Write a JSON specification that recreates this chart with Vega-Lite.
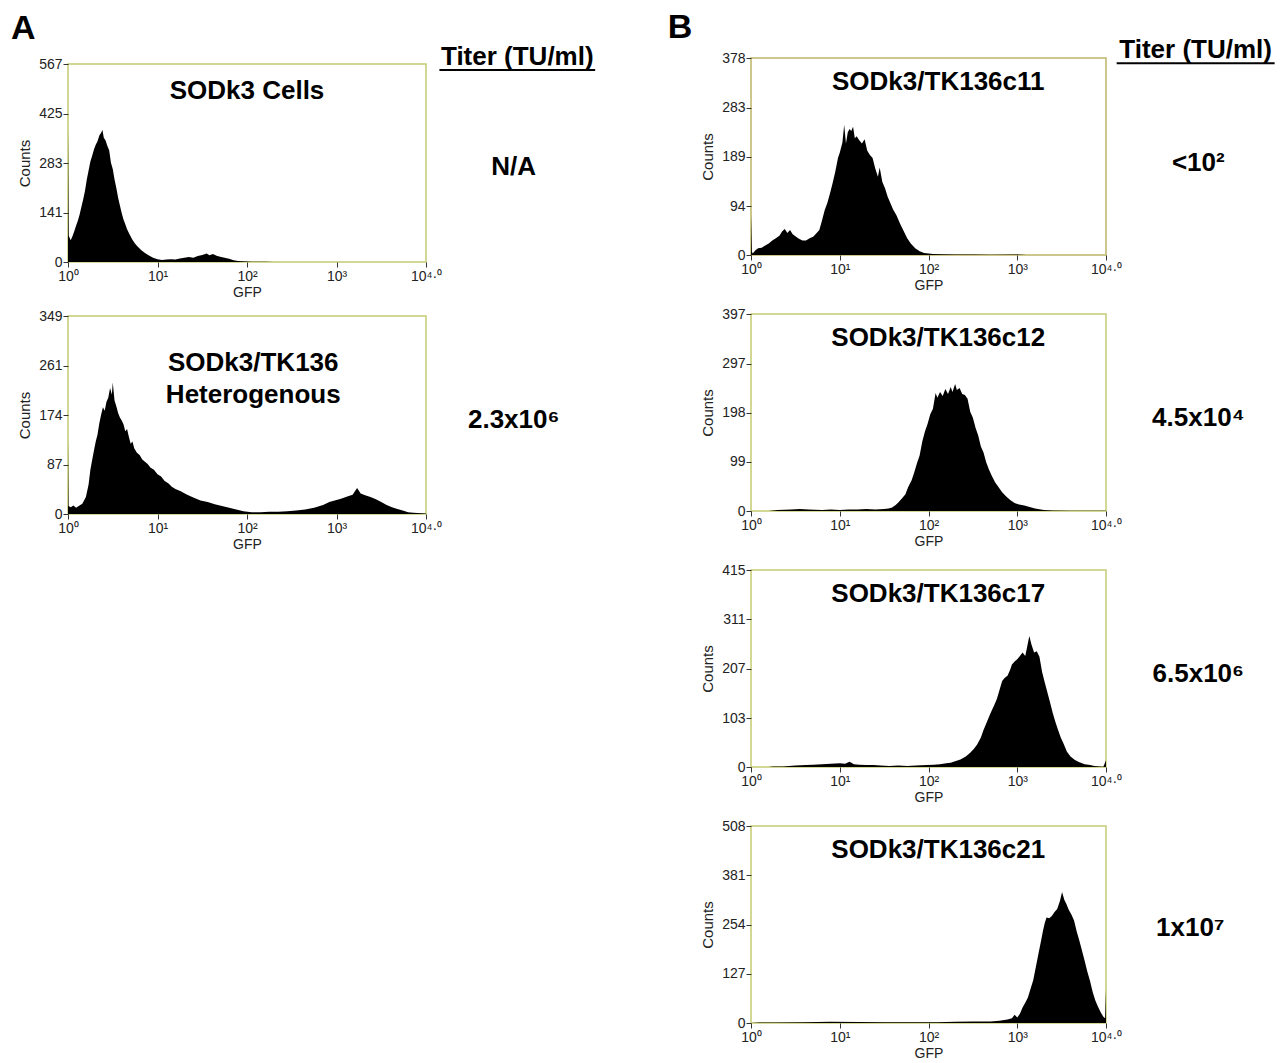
{
  "$schema": "https://vega.github.io/schema/vega-lite/v6.json",
  "padding": {"left": 10, "top": 10, "right": 0, "bottom": 0},
  "background": "white",
  "datasets": {
    "hist": [
      {"panel":"A1","log_gfp":0,"count":385},{"panel":"A1","log_gfp":0.008,"count":75},{"panel":"A1","log_gfp":0.03,"count":62},{"panel":"A1","log_gfp":0.05,"count":74},{"panel":"A1","log_gfp":0.07,"count":88},{"panel":"A1","log_gfp":0.09,"count":104},{"panel":"A1","log_gfp":0.11,"count":118},{"panel":"A1","log_gfp":0.13,"count":136},{"panel":"A1","log_gfp":0.15,"count":158},{"panel":"A1","log_gfp":0.17,"count":180},{"panel":"A1","log_gfp":0.19,"count":204},{"panel":"A1","log_gfp":0.21,"count":236},{"panel":"A1","log_gfp":0.23,"count":262},{"panel":"A1","log_gfp":0.25,"count":288},{"panel":"A1","log_gfp":0.27,"count":304},{"panel":"A1","log_gfp":0.29,"count":322},{"panel":"A1","log_gfp":0.31,"count":336},{"panel":"A1","log_gfp":0.33,"count":346},{"panel":"A1","log_gfp":0.35,"count":362},{"panel":"A1","log_gfp":0.37,"count":370},{"panel":"A1","log_gfp":0.385,"count":378},{"panel":"A1","log_gfp":0.40,"count":356},{"panel":"A1","log_gfp":0.42,"count":348},{"panel":"A1","log_gfp":0.44,"count":332},{"panel":"A1","log_gfp":0.46,"count":320},{"panel":"A1","log_gfp":0.48,"count":284},{"panel":"A1","log_gfp":0.50,"count":266},{"panel":"A1","log_gfp":0.52,"count":236},{"panel":"A1","log_gfp":0.54,"count":212},{"panel":"A1","log_gfp":0.56,"count":184},{"panel":"A1","log_gfp":0.58,"count":162},{"panel":"A1","log_gfp":0.60,"count":140},{"panel":"A1","log_gfp":0.62,"count":122},{"panel":"A1","log_gfp":0.64,"count":108},{"panel":"A1","log_gfp":0.66,"count":94},{"panel":"A1","log_gfp":0.69,"count":78},{"panel":"A1","log_gfp":0.72,"count":64},{"panel":"A1","log_gfp":0.75,"count":52},{"panel":"A1","log_gfp":0.78,"count":44},{"panel":"A1","log_gfp":0.82,"count":34},{"panel":"A1","log_gfp":0.86,"count":26},{"panel":"A1","log_gfp":0.90,"count":19},{"panel":"A1","log_gfp":0.95,"count":12},{"panel":"A1","log_gfp":1.00,"count":8},{"panel":"A1","log_gfp":1.05,"count":6},{"panel":"A1","log_gfp":1.10,"count":7},{"panel":"A1","log_gfp":1.15,"count":8},{"panel":"A1","log_gfp":1.20,"count":7},{"panel":"A1","log_gfp":1.25,"count":10},{"panel":"A1","log_gfp":1.30,"count":12},{"panel":"A1","log_gfp":1.35,"count":14},{"panel":"A1","log_gfp":1.40,"count":12},{"panel":"A1","log_gfp":1.45,"count":17},{"panel":"A1","log_gfp":1.50,"count":20},{"panel":"A1","log_gfp":1.55,"count":24},{"panel":"A1","log_gfp":1.58,"count":19},{"panel":"A1","log_gfp":1.62,"count":23},{"panel":"A1","log_gfp":1.66,"count":18},{"panel":"A1","log_gfp":1.70,"count":15},{"panel":"A1","log_gfp":1.75,"count":12},{"panel":"A1","log_gfp":1.80,"count":9},{"panel":"A1","log_gfp":1.85,"count":5},{"panel":"A1","log_gfp":1.90,"count":3},{"panel":"A1","log_gfp":1.95,"count":2},{"panel":"A1","log_gfp":2.05,"count":1},{"panel":"A1","log_gfp":2.2,"count":0.5},{"panel":"A1","log_gfp":2.3,"count":0},{"panel":"A1","log_gfp":4,"count":0},

      {"panel":"A2","log_gfp":0,"count":132},{"panel":"A2","log_gfp":0.006,"count":14},{"panel":"A2","log_gfp":0.03,"count":12},{"panel":"A2","log_gfp":0.06,"count":15},{"panel":"A2","log_gfp":0.09,"count":11},{"panel":"A2","log_gfp":0.12,"count":14},{"panel":"A2","log_gfp":0.16,"count":18},{"panel":"A2","log_gfp":0.20,"count":30},{"panel":"A2","log_gfp":0.23,"count":52},{"panel":"A2","log_gfp":0.25,"count":78},{"panel":"A2","log_gfp":0.27,"count":95},{"panel":"A2","log_gfp":0.29,"count":112},{"panel":"A2","log_gfp":0.31,"count":128},{"panel":"A2","log_gfp":0.33,"count":140},{"panel":"A2","log_gfp":0.35,"count":160},{"panel":"A2","log_gfp":0.37,"count":175},{"panel":"A2","log_gfp":0.39,"count":188},{"panel":"A2","log_gfp":0.41,"count":182},{"panel":"A2","log_gfp":0.43,"count":198},{"panel":"A2","log_gfp":0.45,"count":205},{"panel":"A2","log_gfp":0.47,"count":222},{"panel":"A2","log_gfp":0.49,"count":210},{"panel":"A2","log_gfp":0.50,"count":232},{"panel":"A2","log_gfp":0.52,"count":200},{"panel":"A2","log_gfp":0.54,"count":190},{"panel":"A2","log_gfp":0.56,"count":178},{"panel":"A2","log_gfp":0.58,"count":170},{"panel":"A2","log_gfp":0.60,"count":165},{"panel":"A2","log_gfp":0.62,"count":158},{"panel":"A2","log_gfp":0.64,"count":146},{"panel":"A2","log_gfp":0.66,"count":150},{"panel":"A2","log_gfp":0.68,"count":136},{"panel":"A2","log_gfp":0.70,"count":124},{"panel":"A2","log_gfp":0.72,"count":128},{"panel":"A2","log_gfp":0.74,"count":116},{"panel":"A2","log_gfp":0.77,"count":108},{"panel":"A2","log_gfp":0.80,"count":104},{"panel":"A2","log_gfp":0.83,"count":96},{"panel":"A2","log_gfp":0.86,"count":92},{"panel":"A2","log_gfp":0.89,"count":88},{"panel":"A2","log_gfp":0.92,"count":82},{"panel":"A2","log_gfp":0.96,"count":78},{"panel":"A2","log_gfp":1.00,"count":70},{"panel":"A2","log_gfp":1.04,"count":66},{"panel":"A2","log_gfp":1.08,"count":58},{"panel":"A2","log_gfp":1.12,"count":54},{"panel":"A2","log_gfp":1.16,"count":48},{"panel":"A2","log_gfp":1.20,"count":44},{"panel":"A2","log_gfp":1.26,"count":40},{"panel":"A2","log_gfp":1.32,"count":35},{"panel":"A2","log_gfp":1.40,"count":29},{"panel":"A2","log_gfp":1.48,"count":24},{"panel":"A2","log_gfp":1.56,"count":21},{"panel":"A2","log_gfp":1.64,"count":17},{"panel":"A2","log_gfp":1.72,"count":14},{"panel":"A2","log_gfp":1.80,"count":11},{"panel":"A2","log_gfp":1.88,"count":8},{"panel":"A2","log_gfp":1.96,"count":5},{"panel":"A2","log_gfp":2.05,"count":3},{"panel":"A2","log_gfp":2.15,"count":3},{"panel":"A2","log_gfp":2.25,"count":4},{"panel":"A2","log_gfp":2.35,"count":4},{"panel":"A2","log_gfp":2.45,"count":5},{"panel":"A2","log_gfp":2.55,"count":6},{"panel":"A2","log_gfp":2.65,"count":8},{"panel":"A2","log_gfp":2.75,"count":11},{"panel":"A2","log_gfp":2.85,"count":16},{"panel":"A2","log_gfp":2.92,"count":21},{"panel":"A2","log_gfp":2.98,"count":24},{"panel":"A2","log_gfp":3.05,"count":27},{"panel":"A2","log_gfp":3.12,"count":31},{"panel":"A2","log_gfp":3.18,"count":34},{"panel":"A2","log_gfp":3.23,"count":46},{"panel":"A2","log_gfp":3.27,"count":36},{"panel":"A2","log_gfp":3.32,"count":33},{"panel":"A2","log_gfp":3.38,"count":30},{"panel":"A2","log_gfp":3.44,"count":26},{"panel":"A2","log_gfp":3.50,"count":21},{"panel":"A2","log_gfp":3.56,"count":16},{"panel":"A2","log_gfp":3.62,"count":12},{"panel":"A2","log_gfp":3.68,"count":9},{"panel":"A2","log_gfp":3.74,"count":6},{"panel":"A2","log_gfp":3.80,"count":3},{"panel":"A2","log_gfp":3.86,"count":2},{"panel":"A2","log_gfp":3.95,"count":1.5},{"panel":"A2","log_gfp":4,"count":1},

      {"panel":"B1","log_gfp":0,"count":78},{"panel":"B1","log_gfp":0.01,"count":6},{"panel":"B1","log_gfp":0.02,"count":3},{"panel":"B1","log_gfp":0.05,"count":9},{"panel":"B1","log_gfp":0.08,"count":13},{"panel":"B1","log_gfp":0.12,"count":14},{"panel":"B1","log_gfp":0.16,"count":18},{"panel":"B1","log_gfp":0.20,"count":22},{"panel":"B1","log_gfp":0.24,"count":28},{"panel":"B1","log_gfp":0.28,"count":32},{"panel":"B1","log_gfp":0.32,"count":37},{"panel":"B1","log_gfp":0.35,"count":45},{"panel":"B1","log_gfp":0.38,"count":50},{"panel":"B1","log_gfp":0.41,"count":42},{"panel":"B1","log_gfp":0.44,"count":48},{"panel":"B1","log_gfp":0.47,"count":40},{"panel":"B1","log_gfp":0.50,"count":36},{"panel":"B1","log_gfp":0.54,"count":31},{"panel":"B1","log_gfp":0.58,"count":28},{"panel":"B1","log_gfp":0.62,"count":28},{"panel":"B1","log_gfp":0.66,"count":32},{"panel":"B1","log_gfp":0.70,"count":35},{"panel":"B1","log_gfp":0.74,"count":42},{"panel":"B1","log_gfp":0.77,"count":48},{"panel":"B1","log_gfp":0.80,"count":66},{"panel":"B1","log_gfp":0.83,"count":86},{"panel":"B1","log_gfp":0.86,"count":100},{"panel":"B1","log_gfp":0.89,"count":118},{"panel":"B1","log_gfp":0.92,"count":138},{"panel":"B1","log_gfp":0.95,"count":160},{"panel":"B1","log_gfp":0.98,"count":186},{"panel":"B1","log_gfp":1.00,"count":196},{"panel":"B1","log_gfp":1.03,"count":216},{"panel":"B1","log_gfp":1.05,"count":250},{"panel":"B1","log_gfp":1.07,"count":214},{"panel":"B1","log_gfp":1.09,"count":235},{"panel":"B1","log_gfp":1.11,"count":242},{"panel":"B1","log_gfp":1.13,"count":238},{"panel":"B1","log_gfp":1.15,"count":246},{"panel":"B1","log_gfp":1.17,"count":224},{"panel":"B1","log_gfp":1.19,"count":228},{"panel":"B1","log_gfp":1.22,"count":220},{"panel":"B1","log_gfp":1.25,"count":214},{"panel":"B1","log_gfp":1.28,"count":222},{"panel":"B1","log_gfp":1.31,"count":200},{"panel":"B1","log_gfp":1.34,"count":192},{"panel":"B1","log_gfp":1.37,"count":186},{"panel":"B1","log_gfp":1.40,"count":166},{"panel":"B1","log_gfp":1.43,"count":150},{"panel":"B1","log_gfp":1.45,"count":168},{"panel":"B1","log_gfp":1.48,"count":140},{"panel":"B1","log_gfp":1.51,"count":128},{"panel":"B1","log_gfp":1.54,"count":112},{"panel":"B1","log_gfp":1.57,"count":100},{"panel":"B1","log_gfp":1.60,"count":88},{"panel":"B1","log_gfp":1.64,"count":76},{"panel":"B1","log_gfp":1.68,"count":60},{"panel":"B1","log_gfp":1.72,"count":46},{"panel":"B1","log_gfp":1.76,"count":32},{"panel":"B1","log_gfp":1.80,"count":22},{"panel":"B1","log_gfp":1.85,"count":13},{"panel":"B1","log_gfp":1.90,"count":7},{"panel":"B1","log_gfp":1.95,"count":4},{"panel":"B1","log_gfp":2.0,"count":3},{"panel":"B1","log_gfp":2.05,"count":2},{"panel":"B1","log_gfp":2.15,"count":1.5},{"panel":"B1","log_gfp":2.3,"count":1},{"panel":"B1","log_gfp":2.5,"count":1},{"panel":"B1","log_gfp":2.7,"count":0.5},{"panel":"B1","log_gfp":3.0,"count":0.8},{"panel":"B1","log_gfp":3.1,"count":0},{"panel":"B1","log_gfp":4,"count":0},

      {"panel":"B2","log_gfp":0,"count":0},{"panel":"B2","log_gfp":0.2,"count":0},{"panel":"B2","log_gfp":0.25,"count":1},{"panel":"B2","log_gfp":0.3,"count":2},{"panel":"B2","log_gfp":0.45,"count":3},{"panel":"B2","log_gfp":0.55,"count":4},{"panel":"B2","log_gfp":0.65,"count":3},{"panel":"B2","log_gfp":0.8,"count":2},{"panel":"B2","log_gfp":0.9,"count":3},{"panel":"B2","log_gfp":1.0,"count":2},{"panel":"B2","log_gfp":1.1,"count":3},{"panel":"B2","log_gfp":1.2,"count":3},{"panel":"B2","log_gfp":1.3,"count":4},{"panel":"B2","log_gfp":1.4,"count":3},{"panel":"B2","log_gfp":1.5,"count":4},{"panel":"B2","log_gfp":1.55,"count":5},{"panel":"B2","log_gfp":1.59,"count":7},{"panel":"B2","log_gfp":1.63,"count":12},{"panel":"B2","log_gfp":1.66,"count":17},{"panel":"B2","log_gfp":1.70,"count":25},{"panel":"B2","log_gfp":1.74,"count":34},{"panel":"B2","log_gfp":1.77,"count":48},{"panel":"B2","log_gfp":1.81,"count":62},{"panel":"B2","log_gfp":1.84,"count":78},{"panel":"B2","log_gfp":1.87,"count":96},{"panel":"B2","log_gfp":1.90,"count":112},{"panel":"B2","log_gfp":1.93,"count":140},{"panel":"B2","log_gfp":1.96,"count":160},{"panel":"B2","log_gfp":1.99,"count":176},{"panel":"B2","log_gfp":2.02,"count":195},{"panel":"B2","log_gfp":2.05,"count":206},{"panel":"B2","log_gfp":2.08,"count":238},{"panel":"B2","log_gfp":2.10,"count":228},{"panel":"B2","log_gfp":2.13,"count":240},{"panel":"B2","log_gfp":2.16,"count":232},{"panel":"B2","log_gfp":2.19,"count":246},{"panel":"B2","log_gfp":2.22,"count":236},{"panel":"B2","log_gfp":2.25,"count":250},{"panel":"B2","log_gfp":2.27,"count":240},{"panel":"B2","log_gfp":2.30,"count":256},{"panel":"B2","log_gfp":2.32,"count":244},{"panel":"B2","log_gfp":2.35,"count":248},{"panel":"B2","log_gfp":2.38,"count":236},{"panel":"B2","log_gfp":2.41,"count":234},{"panel":"B2","log_gfp":2.44,"count":226},{"panel":"B2","log_gfp":2.47,"count":200},{"panel":"B2","log_gfp":2.50,"count":188},{"panel":"B2","log_gfp":2.53,"count":168},{"panel":"B2","log_gfp":2.56,"count":152},{"panel":"B2","log_gfp":2.59,"count":130},{"panel":"B2","log_gfp":2.62,"count":118},{"panel":"B2","log_gfp":2.65,"count":98},{"panel":"B2","log_gfp":2.68,"count":84},{"panel":"B2","log_gfp":2.71,"count":72},{"panel":"B2","log_gfp":2.75,"count":58},{"panel":"B2","log_gfp":2.79,"count":48},{"panel":"B2","log_gfp":2.83,"count":38},{"panel":"B2","log_gfp":2.87,"count":30},{"panel":"B2","log_gfp":2.92,"count":22},{"panel":"B2","log_gfp":2.97,"count":16},{"panel":"B2","log_gfp":3.02,"count":13},{"panel":"B2","log_gfp":3.08,"count":11},{"panel":"B2","log_gfp":3.14,"count":8},{"panel":"B2","log_gfp":3.2,"count":5},{"panel":"B2","log_gfp":3.3,"count":2},{"panel":"B2","log_gfp":3.4,"count":1},{"panel":"B2","log_gfp":3.6,"count":0.5},{"panel":"B2","log_gfp":4,"count":0.5},

      {"panel":"B3","log_gfp":0,"count":0},{"panel":"B3","log_gfp":0.2,"count":0},{"panel":"B3","log_gfp":0.25,"count":1},{"panel":"B3","log_gfp":0.36,"count":1},{"panel":"B3","log_gfp":0.43,"count":2},{"panel":"B3","log_gfp":0.5,"count":3},{"panel":"B3","log_gfp":0.62,"count":4},{"panel":"B3","log_gfp":0.7,"count":5},{"panel":"B3","log_gfp":0.8,"count":6},{"panel":"B3","log_gfp":0.9,"count":7},{"panel":"B3","log_gfp":1.0,"count":8},{"panel":"B3","log_gfp":1.06,"count":7},{"panel":"B3","log_gfp":1.11,"count":11},{"panel":"B3","log_gfp":1.16,"count":6},{"panel":"B3","log_gfp":1.22,"count":5},{"panel":"B3","log_gfp":1.3,"count":4},{"panel":"B3","log_gfp":1.38,"count":4},{"panel":"B3","log_gfp":1.46,"count":3},{"panel":"B3","log_gfp":1.56,"count":2},{"panel":"B3","log_gfp":1.66,"count":3},{"panel":"B3","log_gfp":1.76,"count":2},{"panel":"B3","log_gfp":1.86,"count":3},{"panel":"B3","log_gfp":1.98,"count":4},{"panel":"B3","log_gfp":2.06,"count":5},{"panel":"B3","log_gfp":2.13,"count":6},{"panel":"B3","log_gfp":2.2,"count":8},{"panel":"B3","log_gfp":2.25,"count":9},{"panel":"B3","log_gfp":2.3,"count":12},{"panel":"B3","log_gfp":2.36,"count":16},{"panel":"B3","log_gfp":2.42,"count":22},{"panel":"B3","log_gfp":2.47,"count":30},{"panel":"B3","log_gfp":2.51,"count":38},{"panel":"B3","log_gfp":2.55,"count":48},{"panel":"B3","log_gfp":2.59,"count":62},{"panel":"B3","log_gfp":2.62,"count":78},{"panel":"B3","log_gfp":2.66,"count":96},{"panel":"B3","log_gfp":2.70,"count":114},{"panel":"B3","log_gfp":2.74,"count":130},{"panel":"B3","log_gfp":2.77,"count":143},{"panel":"B3","log_gfp":2.80,"count":162},{"panel":"B3","log_gfp":2.83,"count":181},{"panel":"B3","log_gfp":2.86,"count":188},{"panel":"B3","log_gfp":2.89,"count":192},{"panel":"B3","log_gfp":2.92,"count":205},{"panel":"B3","log_gfp":2.94,"count":216},{"panel":"B3","log_gfp":2.97,"count":222},{"panel":"B3","log_gfp":3.00,"count":227},{"panel":"B3","log_gfp":3.03,"count":234},{"panel":"B3","log_gfp":3.06,"count":241},{"panel":"B3","log_gfp":3.09,"count":234},{"panel":"B3","log_gfp":3.11,"count":252},{"panel":"B3","log_gfp":3.136,"count":276},{"panel":"B3","log_gfp":3.16,"count":258},{"panel":"B3","log_gfp":3.19,"count":241},{"panel":"B3","log_gfp":3.22,"count":244},{"panel":"B3","log_gfp":3.25,"count":232},{"panel":"B3","log_gfp":3.28,"count":200},{"panel":"B3","log_gfp":3.31,"count":178},{"panel":"B3","log_gfp":3.34,"count":157},{"panel":"B3","log_gfp":3.37,"count":136},{"panel":"B3","log_gfp":3.40,"count":114},{"panel":"B3","log_gfp":3.43,"count":95},{"panel":"B3","log_gfp":3.46,"count":78},{"panel":"B3","log_gfp":3.49,"count":62},{"panel":"B3","log_gfp":3.52,"count":50},{"panel":"B3","log_gfp":3.56,"count":32},{"panel":"B3","log_gfp":3.60,"count":22},{"panel":"B3","log_gfp":3.65,"count":15},{"panel":"B3","log_gfp":3.70,"count":10},{"panel":"B3","log_gfp":3.76,"count":6},{"panel":"B3","log_gfp":3.82,"count":4},{"panel":"B3","log_gfp":3.87,"count":2},{"panel":"B3","log_gfp":3.93,"count":1},{"panel":"B3","log_gfp":3.97,"count":0.5},{"panel":"B3","log_gfp":4,"count":14},

      {"panel":"B4","log_gfp":0,"count":0},{"panel":"B4","log_gfp":0.1,"count":1},{"panel":"B4","log_gfp":0.3,"count":1.5},{"panel":"B4","log_gfp":0.6,"count":2},{"panel":"B4","log_gfp":0.9,"count":3},{"panel":"B4","log_gfp":1.2,"count":2.5},{"panel":"B4","log_gfp":1.5,"count":2},{"panel":"B4","log_gfp":1.8,"count":2},{"panel":"B4","log_gfp":2.1,"count":2},{"panel":"B4","log_gfp":2.3,"count":3},{"panel":"B4","log_gfp":2.5,"count":4},{"panel":"B4","log_gfp":2.7,"count":4},{"panel":"B4","log_gfp":2.8,"count":6},{"panel":"B4","log_gfp":2.89,"count":9},{"panel":"B4","log_gfp":2.94,"count":12},{"panel":"B4","log_gfp":2.97,"count":21},{"panel":"B4","log_gfp":3.0,"count":14},{"panel":"B4","log_gfp":3.03,"count":24},{"panel":"B4","log_gfp":3.06,"count":40},{"panel":"B4","log_gfp":3.09,"count":52},{"panel":"B4","log_gfp":3.12,"count":66},{"panel":"B4","log_gfp":3.15,"count":88},{"panel":"B4","log_gfp":3.18,"count":110},{"panel":"B4","log_gfp":3.21,"count":145},{"panel":"B4","log_gfp":3.24,"count":180},{"panel":"B4","log_gfp":3.27,"count":214},{"panel":"B4","log_gfp":3.29,"count":238},{"panel":"B4","log_gfp":3.31,"count":258},{"panel":"B4","log_gfp":3.33,"count":272},{"panel":"B4","log_gfp":3.36,"count":270},{"panel":"B4","log_gfp":3.39,"count":276},{"panel":"B4","log_gfp":3.42,"count":286},{"panel":"B4","log_gfp":3.45,"count":294},{"panel":"B4","log_gfp":3.48,"count":314},{"panel":"B4","log_gfp":3.505,"count":338},{"panel":"B4","log_gfp":3.53,"count":318},{"panel":"B4","log_gfp":3.555,"count":306},{"panel":"B4","log_gfp":3.58,"count":292},{"panel":"B4","log_gfp":3.61,"count":280},{"panel":"B4","log_gfp":3.64,"count":264},{"panel":"B4","log_gfp":3.67,"count":236},{"panel":"B4","log_gfp":3.70,"count":212},{"panel":"B4","log_gfp":3.73,"count":186},{"panel":"B4","log_gfp":3.76,"count":160},{"panel":"B4","log_gfp":3.79,"count":132},{"panel":"B4","log_gfp":3.82,"count":108},{"panel":"B4","log_gfp":3.85,"count":80},{"panel":"B4","log_gfp":3.88,"count":58},{"panel":"B4","log_gfp":3.91,"count":42},{"panel":"B4","log_gfp":3.94,"count":28},{"panel":"B4","log_gfp":3.97,"count":16},{"panel":"B4","log_gfp":3.99,"count":12},{"panel":"B4","log_gfp":4.0,"count":86}
    ],
    "labels": [
      {"panel":"A1","title":"SODk3 Cells","titer":"N/A"},
      {"panel":"A2","title":"SODk3/TK136\nHeterogenous","titer":"2.3x10⁶"},
      {"panel":"B1","title":"SODk3/TK136c11","titer":"<10²"},
      {"panel":"B2","title":"SODk3/TK136c12","titer":"4.5x10⁴"},
      {"panel":"B3","title":"SODk3/TK136c17","titer":"6.5x10⁶"},
      {"panel":"B4","title":"SODk3/TK136c21","titer":"1x10⁷"}
    ]
  },
  "spacing": 69,
  "hconcat": [
    {
      "bounds": "flush",
      "spacing": 5,
      "vconcat": [
        {
          "width": 358, "height": 1,
          "view": {"stroke": "transparent"},
          "data": {"values": []},
          "mark": "point",
          "encoding": {}
        },
        {
          "bounds": "flush",
          "spacing": 54,
          "vconcat": [
            {
              "width": 358, "height": 198,
              "layer": [
                {"data": {"name": "hist"}, "transform": [{"filter": "datum.panel === 'A1'"}],
                 "mark": {"type": "area", "color": "black", "interpolate": "linear"},
                 "encoding": {
                   "x": {"field": "log_gfp", "type": "quantitative", "scale": {"domain": [0, 4], "nice": false, "zero": false}, "axis": {"title": "GFP", "values": [0, 1, 2, 3, 4], "labelExpr": "datum.value == 4 ? '10⁴·⁰' : '10' + ['⁰','¹','²','³'][datum.value]"}},
                   "y": {"field": "count", "type": "quantitative", "scale": {"domain": [0, 567], "nice": false}, "axis": {"title": "Counts", "values": [0, 141, 283, 425, 567]}}
                 }},
                {"data": {"name": "labels"}, "transform": [{"filter": "datum.panel === 'A1'"}],
                 "mark": {"type": "text", "fontSize": 26, "fontWeight": "bold", "baseline": "middle", "align": "center"},
                 "encoding": {"x": {"datum": 2.0}, "y": {"datum": 490}, "text": {"field": "title"}}},
                {"data": {"name": "labels"}, "transform": [{"filter": "datum.panel === 'A1'"}],
                 "mark": {"type": "text", "fontSize": 26, "fontWeight": "bold", "baseline": "middle", "align": "center"},
                 "encoding": {"x": {"datum": 4.98}, "y": {"datum": 272}, "text": {"field": "titer"}}},
                {"data": {"values": [{"header": "Titer (TU/ml)"}]},
                 "mark": {"type": "text", "fontSize": 26, "fontWeight": "bold", "baseline": "middle", "align": "center"},
                 "encoding": {"x": {"datum": 5.02}, "y": {"datum": 587}, "text": {"field": "header"}}},
                {"data": {"values": [{}]},
                 "mark": {"type": "rule", "color": "black", "strokeWidth": 2},
                 "encoding": {"x": {"datum": 4.15}, "x2": {"datum": 5.89}, "y": {"datum": 550}}},
                {"data": {"values": [{"figure_panel": "A"}]},
                 "mark": {"type": "text", "fontSize": 34, "fontWeight": "bold", "baseline": "middle", "align": "center"},
                 "encoding": {"x": {"datum": -0.5}, "y": {"datum": 667}, "text": {"field": "figure_panel"}}}
              ]
            },
            {
              "width": 358, "height": 198,
              "layer": [
                {"data": {"name": "hist"}, "transform": [{"filter": "datum.panel === 'A2'"}],
                 "mark": {"type": "area", "color": "black", "interpolate": "linear"},
                 "encoding": {
                   "x": {"field": "log_gfp", "type": "quantitative", "scale": {"domain": [0, 4], "nice": false, "zero": false}, "axis": {"title": "GFP", "values": [0, 1, 2, 3, 4], "labelExpr": "datum.value == 4 ? '10⁴·⁰' : '10' + ['⁰','¹','²','³'][datum.value]"}},
                   "y": {"field": "count", "type": "quantitative", "scale": {"domain": [0, 349], "nice": false}, "axis": {"title": "Counts", "values": [0, 87, 174, 261, 349]}}
                 }},
                {"data": {"name": "labels"}, "transform": [{"filter": "datum.panel === 'A2'"}],
                 "mark": {"type": "text", "fontSize": 26, "fontWeight": "bold", "baseline": "middle", "align": "center", "lineBreak": "\n", "lineHeight": 32},
                 "encoding": {"x": {"datum": 2.07}, "y": {"datum": 266}, "text": {"field": "title"}}},
                {"data": {"name": "labels"}, "transform": [{"filter": "datum.panel === 'A2'"}],
                 "mark": {"type": "text", "fontSize": 26, "fontWeight": "bold", "baseline": "middle", "align": "center"},
                 "encoding": {"x": {"datum": 4.98}, "y": {"datum": 166}, "text": {"field": "titer"}}}
              ]
            }
          ]
        }
      ]
    },
    {
      "bounds": "flush",
      "spacing": 59,
      "vconcat": [
        {
          "width": 355, "height": 197,
          "view": {"stroke": "#bdb567"},
          "layer": [
            {"data": {"name": "hist"}, "transform": [{"filter": "datum.panel === 'B1'"}],
             "mark": {"type": "area", "color": "black", "interpolate": "linear"},
             "encoding": {
               "x": {"field": "log_gfp", "type": "quantitative", "scale": {"domain": [0, 4], "nice": false, "zero": false}, "axis": {"title": "GFP", "values": [0, 1, 2, 3, 4], "labelExpr": "datum.value == 4 ? '10⁴·⁰' : '10' + ['⁰','¹','²','³'][datum.value]"}},
               "y": {"field": "count", "type": "quantitative", "scale": {"domain": [0, 378], "nice": false}, "axis": {"title": "Counts", "values": [0, 94, 189, 283, 378]}}
             }},
            {"data": {"name": "labels"}, "transform": [{"filter": "datum.panel === 'B1'"}],
             "mark": {"type": "text", "fontSize": 26, "fontWeight": "bold", "baseline": "middle", "align": "center"},
             "encoding": {"x": {"datum": 2.11}, "y": {"datum": 332}, "text": {"field": "title"}}},
            {"data": {"name": "labels"}, "transform": [{"filter": "datum.panel === 'B1'"}],
             "mark": {"type": "text", "fontSize": 26, "fontWeight": "bold", "baseline": "middle", "align": "center"},
             "encoding": {"x": {"datum": 5.04}, "y": {"datum": 176}, "text": {"field": "titer"}}},
            {"data": {"values": [{"header": "Titer (TU/ml)"}]},
             "mark": {"type": "text", "fontSize": 26, "fontWeight": "bold", "baseline": "middle", "align": "center"},
             "encoding": {"x": {"datum": 5.01}, "y": {"datum": 393}, "text": {"field": "header"}}},
            {"data": {"values": [{}]},
             "mark": {"type": "rule", "color": "black", "strokeWidth": 2},
             "encoding": {"x": {"datum": 4.12}, "x2": {"datum": 5.90}, "y": {"datum": 368}}},
            {"data": {"values": [{"figure_panel": "B"}]},
             "mark": {"type": "text", "fontSize": 34, "fontWeight": "bold", "baseline": "middle", "align": "center"},
             "encoding": {"x": {"datum": -0.8}, "y": {"datum": 435.6}, "text": {"field": "figure_panel"}}}
          ]
        },
        {
          "width": 355, "height": 197,
          "layer": [
            {"data": {"name": "hist"}, "transform": [{"filter": "datum.panel === 'B2'"}],
             "mark": {"type": "area", "color": "black", "interpolate": "linear"},
             "encoding": {
               "x": {"field": "log_gfp", "type": "quantitative", "scale": {"domain": [0, 4], "nice": false, "zero": false}, "axis": {"title": "GFP", "values": [0, 1, 2, 3, 4], "labelExpr": "datum.value == 4 ? '10⁴·⁰' : '10' + ['⁰','¹','²','³'][datum.value]"}},
               "y": {"field": "count", "type": "quantitative", "scale": {"domain": [0, 397], "nice": false}, "axis": {"title": "Counts", "values": [0, 99, 198, 297, 397]}}
             }},
            {"data": {"name": "labels"}, "transform": [{"filter": "datum.panel === 'B2'"}],
             "mark": {"type": "text", "fontSize": 26, "fontWeight": "bold", "baseline": "middle", "align": "center"},
             "encoding": {"x": {"datum": 2.11}, "y": {"datum": 349}, "text": {"field": "title"}}},
            {"data": {"name": "labels"}, "transform": [{"filter": "datum.panel === 'B2'"}],
             "mark": {"type": "text", "fontSize": 26, "fontWeight": "bold", "baseline": "middle", "align": "center"},
             "encoding": {"x": {"datum": 5.04}, "y": {"datum": 188}, "text": {"field": "titer"}}}
          ]
        },
        {
          "width": 355, "height": 197,
          "layer": [
            {"data": {"name": "hist"}, "transform": [{"filter": "datum.panel === 'B3'"}],
             "mark": {"type": "area", "color": "black", "interpolate": "linear"},
             "encoding": {
               "x": {"field": "log_gfp", "type": "quantitative", "scale": {"domain": [0, 4], "nice": false, "zero": false}, "axis": {"title": "GFP", "values": [0, 1, 2, 3, 4], "labelExpr": "datum.value == 4 ? '10⁴·⁰' : '10' + ['⁰','¹','²','³'][datum.value]"}},
               "y": {"field": "count", "type": "quantitative", "scale": {"domain": [0, 415], "nice": false}, "axis": {"title": "Counts", "values": [0, 103, 207, 311, 415]}}
             }},
            {"data": {"name": "labels"}, "transform": [{"filter": "datum.panel === 'B3'"}],
             "mark": {"type": "text", "fontSize": 26, "fontWeight": "bold", "baseline": "middle", "align": "center"},
             "encoding": {"x": {"datum": 2.11}, "y": {"datum": 364}, "text": {"field": "title"}}},
            {"data": {"name": "labels"}, "transform": [{"filter": "datum.panel === 'B3'"}],
             "mark": {"type": "text", "fontSize": 26, "fontWeight": "bold", "baseline": "middle", "align": "center"},
             "encoding": {"x": {"datum": 5.04}, "y": {"datum": 196}, "text": {"field": "titer"}}}
          ]
        },
        {
          "width": 355, "height": 197,
          "layer": [
            {"data": {"name": "hist"}, "transform": [{"filter": "datum.panel === 'B4'"}],
             "mark": {"type": "area", "color": "black", "interpolate": "linear"},
             "encoding": {
               "x": {"field": "log_gfp", "type": "quantitative", "scale": {"domain": [0, 4], "nice": false, "zero": false}, "axis": {"title": "GFP", "values": [0, 1, 2, 3, 4], "labelExpr": "datum.value == 4 ? '10⁴·⁰' : '10' + ['⁰','¹','²','³'][datum.value]"}},
               "y": {"field": "count", "type": "quantitative", "scale": {"domain": [0, 508], "nice": false}, "axis": {"title": "Counts", "values": [0, 127, 254, 381, 508]}}
             }},
            {"data": {"name": "labels"}, "transform": [{"filter": "datum.panel === 'B4'"}],
             "mark": {"type": "text", "fontSize": 26, "fontWeight": "bold", "baseline": "middle", "align": "center"},
             "encoding": {"x": {"datum": 2.11}, "y": {"datum": 446}, "text": {"field": "title"}}},
            {"data": {"name": "labels"}, "transform": [{"filter": "datum.panel === 'B4'"}],
             "mark": {"type": "text", "fontSize": 26, "fontWeight": "bold", "baseline": "middle", "align": "center"},
             "encoding": {"x": {"datum": 4.95}, "y": {"datum": 246}, "text": {"field": "titer"}}}
          ]
        }
      ]
    }
  ],
  "config": {
    "font": "Liberation Sans",
    "view": {"stroke": "#c4cc70", "strokeWidth": 1.5},
    "text": {"color": "black", "font": "Liberation Sans"},
    "axis": {
      "grid": false, "domain": false, "tickSize": 5, "tickColor": "#333", "tickWidth": 1,
      "labelFont": "Liberation Sans", "titleFont": "Liberation Sans",
      "labelFontSize": 14, "titleFontSize": 15, "titleFontWeight": "normal",
      "labelColor": "#222", "titleColor": "#222", "labelPadding": 3, "titlePadding": 4, "labelFlush": false
    },
    "axisX": {"titleFontSize": 14, "titlePadding": 2, "labelPadding": 2},
    "axisY": {"titlePadding": 6, "labelPadding": 1}
  }
}
